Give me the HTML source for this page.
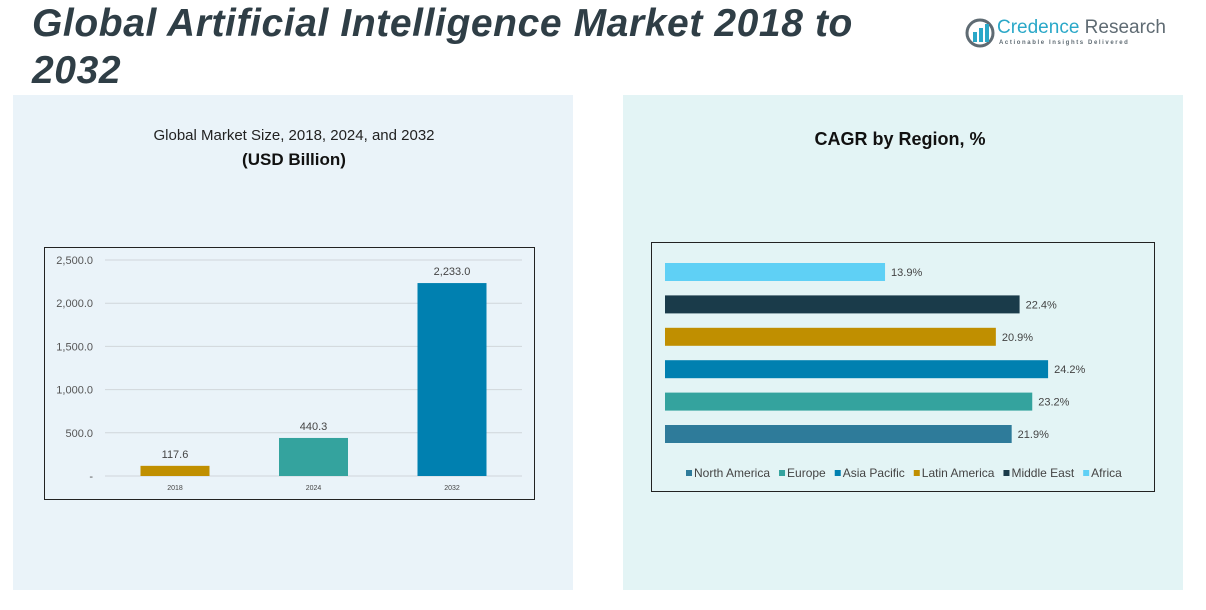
<!DOCTYPE html>
<html><head><meta charset="utf-8"><style>
body{margin:0;width:1206px;height:610px;background:#fff;font-family:"Liberation Sans",sans-serif;position:relative;overflow:hidden}
.abs{position:absolute}
</style></head><body>
<div class="abs" style="left:13px;top:95px;width:560px;height:495px;background:#eaf3f9"></div>
<div class="abs" style="left:623px;top:95px;width:560px;height:495px;background:#e3f4f5"></div>
<div class="abs" style="left:32px;top:0px;width:900px;font-size:39px;font-weight:bold;font-style:italic;color:#2f3e46;line-height:47px;letter-spacing:0.6px">Global Artificial Intelligence Market 2018 to<br>2032</div>
<div class="abs" style="left:965px;top:16px;width:200px;height:34px">
<svg width="32" height="32" style="position:absolute;left:0;top:2px"><circle cx="15" cy="15" r="13" fill="none" stroke="#5f6b73" stroke-width="3"/><rect x="8" y="14" width="4" height="10" fill="#2aa8c8"/><rect x="14" y="10" width="4" height="14" fill="#2aa8c8"/><rect x="20" y="6" width="4" height="18" fill="#2aa8c8"/></svg>
<div class="abs" style="left:32px;top:1px;font-size:19px;color:#2aa8c8;white-space:nowrap">Credence <span style="color:#5f6b73">Research</span></div>
<div class="abs" style="left:34px;top:24px;font-size:6px;letter-spacing:1.6px;color:#5f6b73;white-space:nowrap;font-weight:bold">Actionable Insights Delivered</div>
</div>
<div class="abs" style="left:44px;top:127px;width:500px;text-align:center;font-size:15px;color:#222">Global Market Size, 2018, 2024, and 2032</div>
<div class="abs" style="left:44px;top:150px;width:500px;text-align:center;font-size:17px;font-weight:bold;color:#111">(USD Billion)</div>
<div class="abs" style="left:700px;top:129px;width:400px;text-align:center;font-size:18px;font-weight:bold;color:#111">CAGR by Region, %</div>

<svg class="abs" style="left:0;top:0" width="1206" height="610" id="charts">
<rect x="44.5" y="247.5" width="490" height="252" fill="none" stroke="#222" stroke-width="1"/>
<rect x="651.5" y="242.5" width="503" height="249" fill="none" stroke="#222" stroke-width="1"/>
<g id="left"></g><g id="right"></g>
</svg>
<script>
const years=["2018","2024","2032"];
const marketSize=[117.6,440.3,2233.0];
const sizeLabels=["117.6","440.3","2,233.0"];
const yTicks=[0,500,1000,1500,2000,2500];
const yTickLabels=["-","500.0","1,000.0","1,500.0","2,000.0","2,500.0"];
const barColors=["#c08f00","#34a39e","#0080b0"];
const regions=["North America","Europe","Asia Pacific","Latin America","Middle East","Africa"];
const cagr=[21.9,23.2,24.2,20.9,22.4,13.9];
const regionColors=["#2e7b9a","#34a39e","#0080b0","#c08f00","#1a3b4a","#5fd0f5"];
const NS="http://www.w3.org/2000/svg";
function mk(t,a,p,txt){const e=document.createElementNS(NS,t);for(const k in a)e.setAttribute(k,a[k]);if(txt!==undefined)e.textContent=txt;p.appendChild(e);return e;}
const L=document.getElementById('left'),R=document.getElementById('right');
const y=v=>476-v/2500*216;
const xc=i=>175+i*138.5;
yTicks.forEach((t,i)=>{
 const g=mk('line',{x1:105,x2:522,y1:y(t),y2:y(t),stroke:"#d0d6da","stroke-width":1},L);
 
 
 const tl=mk('text',{x:93,y:y(t)+4,"text-anchor":"end","font-size":11,fill:"#555","font-family":"Liberation Sans"},L,yTickLabels[i]);
 
 
});
marketSize.forEach((v,i)=>{
 const b=mk('rect',{x:xc(i)-34.5,y:y(v),width:69,height:476-y(v),fill:barColors[i]},L);
 
 
 const t=mk('text',{x:xc(i),y:y(v)-8,"text-anchor":"middle","font-size":11,fill:"#444","font-family":"Liberation Sans"},L,sizeLabels[i]);
 
 
 const xl=mk('text',{x:xc(i),y:490,"text-anchor":"middle","font-size":7,fill:"#444","font-family":"Liberation Sans"},L,years[i]);
 
 
});
const xs=v=>665+v*15.83;
const yr=i=>434-i*32.4;
cagr.forEach((v,i)=>{
 const b=mk('rect',{x:665,y:yr(i)-9,width:xs(v)-665,height:18,fill:regionColors[i]},R);
 
 
 const t=mk('text',{x:xs(v)+6,y:yr(i)+4,"font-size":11,fill:"#444","font-family":"Liberation Sans"},R,v.toFixed(1)+"%");
 
 
});
let lx=686;
regions.forEach((r,i)=>{
 const s=mk('rect',{x:lx,y:470,width:6,height:6,fill:regionColors[i]},R);
 
 
 const t=mk('text',{x:lx+8,y:477,"font-size":12,fill:"#444","font-family":"Liberation Sans"},R,r);
 
 
 lx+=8+t.getComputedTextLength()+9;
});
</script>
</body></html>
